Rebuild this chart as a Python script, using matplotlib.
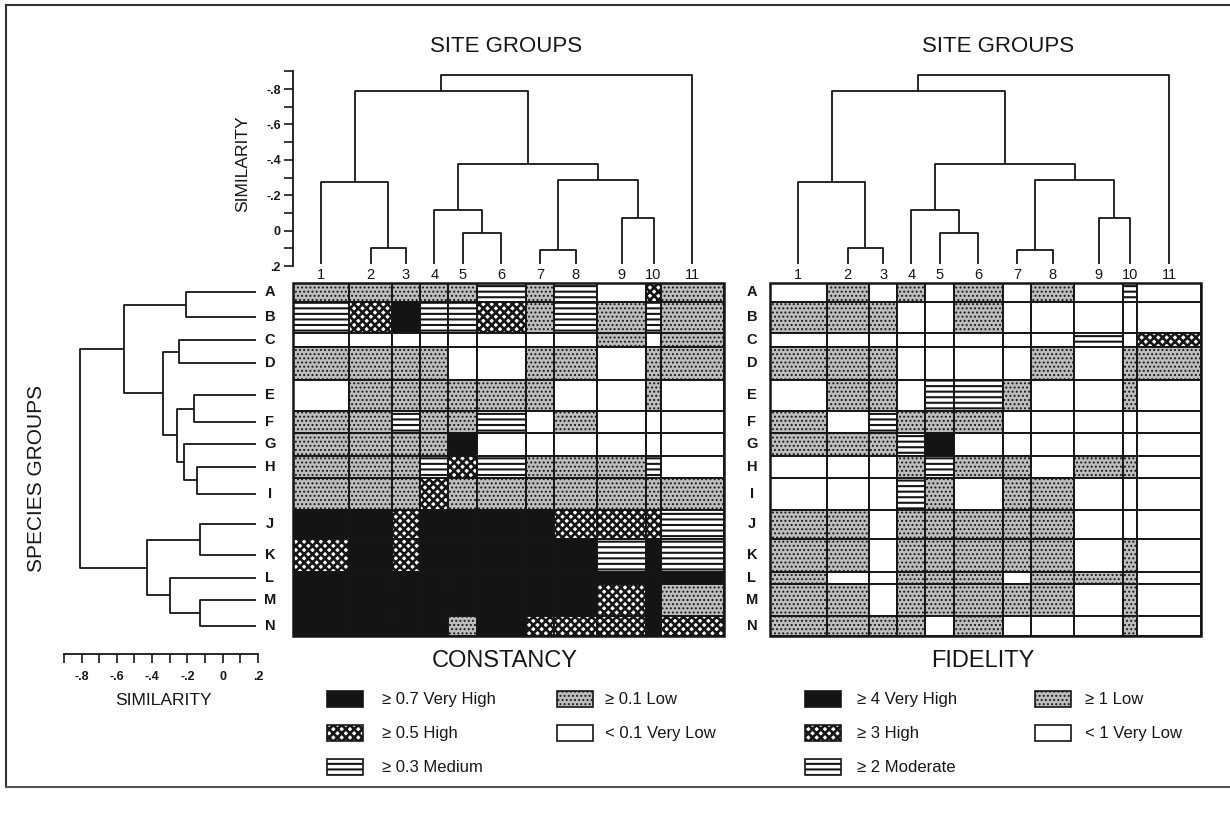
import matplotlib
matplotlib.use('Agg')
import matplotlib.pyplot as plt
from matplotlib.patches import Rectangle
from matplotlib.transforms import blended_transform_factory
import numpy as np

plt.rcParams['font.family'] = ['Liberation Sans', 'DejaVu Sans']

# ---------------- data ----------------
site_labels = ['1', '2', '3', '4', '5', '6', '7', '8', '9', '10', '11']
site_widths = [8, 6, 4, 4, 4, 7, 4, 6, 7, 2, 9]            # relative size of each site group
species_labels = list('ABCDEFGHIJKLMN')
species_sizes = [19, 31, 14, 33, 31, 22, 23, 22, 32, 29, 33, 12, 32, 20]  # relative size of each species group

# classes: 0 very low, 1 low, 2 medium/moderate, 3 high, 4 very high
constancy = [
    [1, 1, 1, 1, 1, 2, 1, 2, 0, 3, 1],  # A
    [2, 3, 4, 2, 2, 3, 1, 2, 1, 2, 1],  # B
    [0, 0, 0, 0, 0, 0, 0, 0, 1, 0, 1],  # C
    [1, 1, 1, 1, 0, 0, 1, 1, 0, 1, 1],  # D
    [0, 1, 1, 1, 1, 1, 1, 0, 0, 1, 0],  # E
    [1, 1, 2, 1, 1, 2, 0, 1, 0, 0, 0],  # F
    [1, 1, 1, 1, 4, 0, 0, 0, 0, 0, 0],  # G
    [1, 1, 1, 2, 3, 2, 1, 1, 1, 2, 0],  # H
    [1, 1, 1, 3, 1, 1, 1, 1, 1, 1, 1],  # I
    [4, 4, 3, 4, 4, 4, 4, 3, 3, 3, 2],  # J
    [3, 4, 3, 4, 4, 4, 4, 4, 2, 4, 2],  # K
    [4, 4, 4, 4, 4, 4, 4, 4, 4, 4, 4],  # L
    [4, 4, 4, 4, 4, 4, 4, 4, 3, 4, 1],  # M
    [4, 4, 4, 4, 1, 4, 3, 3, 3, 4, 3],  # N
]
fidelity = [
    [0, 1, 0, 1, 0, 1, 0, 1, 0, 2, 0],  # A
    [1, 1, 1, 0, 0, 1, 0, 0, 0, 0, 0],  # B
    [0, 0, 0, 0, 0, 0, 0, 0, 2, 0, 3],  # C
    [1, 1, 1, 0, 0, 0, 0, 1, 0, 1, 1],  # D
    [0, 1, 1, 0, 2, 2, 1, 0, 0, 1, 0],  # E
    [1, 0, 2, 1, 1, 1, 0, 0, 0, 0, 0],  # F
    [1, 1, 1, 2, 4, 0, 0, 0, 0, 0, 0],  # G
    [0, 0, 0, 1, 2, 1, 1, 0, 1, 1, 0],  # H
    [0, 0, 0, 2, 1, 0, 1, 1, 0, 0, 0],  # I
    [1, 1, 0, 1, 1, 1, 1, 1, 0, 0, 0],  # J
    [1, 1, 0, 1, 1, 1, 1, 1, 0, 1, 0],  # K
    [1, 0, 0, 1, 1, 1, 0, 1, 1, 1, 0],  # L
    [1, 1, 0, 1, 1, 1, 1, 1, 0, 1, 0],  # M
    [1, 1, 1, 1, 0, 1, 0, 0, 0, 1, 0],  # N
]

# site dendrogram merges (leaf ids 0..10, new nodes from 11)
site_merge_a = [1, 0, 4, 3, 6, 8, 15, 14, 12, 19]
site_merge_b = [2, 11, 5, 13, 7, 9, 16, 17, 18, 10]
site_merge_h = [0.10, -0.277, 0.015, -0.115, 0.11, -0.073, -0.285, -0.375, -0.79, -0.88]
# species dendrogram merges (leaf ids 0..13, new nodes from 14)
species_merge_a = [0, 2, 4, 7, 6, 16, 15, 14, 9, 12, 11, 22, 21]
species_merge_b = [1, 3, 5, 8, 17, 18, 19, 20, 10, 13, 23, 24, 25]
species_merge_h = [-0.21, -0.248, -0.16, -0.147, -0.217, -0.26, -0.336, -0.557,
                   -0.129, -0.129, -0.30, -0.43, -0.81]
leaf_height = 0.19

sim_ticks = [-0.9, -0.8, -0.7, -0.6, -0.5, -0.4, -0.3, -0.2, -0.1, 0.0, 0.1, 0.2]
sim_labels = ['', '-.8', '', '-.6', '', '-.4', '', '-.2', '', '0', '', '.2']

const_legend = ['< 0.1 Very Low', '\u2265 0.1 Low', '\u2265 0.3 Medium', '\u2265 0.5 High', '\u2265 0.7 Very High']
fid_legend = ['< 1 Very Low', '\u2265 1 Low', '\u2265 2 Moderate', '\u2265 3 High', '\u2265 4 Very High']

# ---------------- styles ----------------
STYLE = {
    0: dict(facecolor='white', hatch=None, hlw=1.0),
    1: dict(facecolor='#bdbdbd', hatch='....', hlw=0.9),
    2: dict(facecolor='white', hatch='---', hlw=1.5),
    3: dict(facecolor='white', hatch='xxxx', hlw=1.9),
    4: dict(facecolor='#141414', hatch=None, hlw=1.0),
}
INK = '#161616'

W, H = 1230, 813
fig = plt.figure(figsize=(W / 100, H / 100), dpi=100)


def px_axes(x0, y0, x1, y1, **kw):
    return fig.add_axes([x0 / W, 1 - y1 / H, (x1 - x0) / W, (y1 - y0) / H], **kw)


def make_rect(xy, w, h, cls, lw=1.4):
    st = STYLE[cls]
    with plt.rc_context({'hatch.linewidth': st['hlw']}):
        r = Rectangle(xy, w, h, facecolor=st['facecolor'], edgecolor=INK,
                      hatch=st['hatch'], linewidth=lw)
    if hasattr(r, 'set_hatch_linewidth'):
        r.set_hatch_linewidth(st['hlw'])
    return r


col_edges = np.concatenate([[0], np.cumsum(site_widths)])
row_edges = np.concatenate([[0], np.cumsum(species_sizes)])
col_centers = (col_edges[:-1] + col_edges[1:]) / 2
row_centers = (row_edges[:-1] + row_edges[1:]) / 2


def draw_dendro(ax, leaf_pos, ma, mb, mh, orient):
    pos = list(leaf_pos)
    hts = [leaf_height] * len(leaf_pos)
    for a, b, h in zip(ma, mb, mh):
        xs = [pos[a], pos[a], pos[b], pos[b]]
        ys = [hts[a], h, h, hts[b]]
        if orient == 'top':
            ax.plot(xs, ys, color=INK, lw=1.3, solid_capstyle='butt')
        else:
            ax.plot(ys, xs, color=INK, lw=1.3, solid_capstyle='butt')
        pos.append((pos[a] + pos[b]) / 2)
        hts.append(h)


# overlay for frame and texts
ov = px_axes(0, 0, W, H, zorder=-5)
ov.set_xlim(0, W)
ov.set_ylim(H, 0)
ov.axis('off')
ov.plot([6, 6], [5, 787], color='#333333', lw=1.5)
ov.plot([6, W], [5, 5], color='#333333', lw=1.5)
ov.plot([6, W], [787, 787], color='#555555', lw=1.5)

# matrices
mat_x = {'const': (292.7, 724.3), 'fid': (770, 1201)}
mat_y = (282.7, 636)
letter_x = {'const': 270, 'fid': 752}
for key, data in (('const', constancy), ('fid', fidelity)):
    x0, x1 = mat_x[key]
    ax = px_axes(x0, mat_y[0], x1, mat_y[1])
    ax.set_xlim(0, col_edges[-1])
    ax.set_ylim(row_edges[-1], 0)
    ax.axis('off')
    for i in range(len(species_labels)):
        for j in range(len(site_labels)):
            ax.add_patch(make_rect((col_edges[j], row_edges[i]), site_widths[j],
                                   species_sizes[i], data[i][j]))
    ax.add_patch(Rectangle((0, 0), col_edges[-1], row_edges[-1], fill=False,
                           edgecolor=INK, lw=1.8, clip_on=False))
    tr = blended_transform_factory(ax.transAxes, ax.transData)
    lx = (letter_x[key] - x0) / (x1 - x0)
    for i, lab in enumerate(species_labels):
        ax.text(lx, row_centers[i], lab, transform=tr, ha='center', va='center',
                fontsize=10.5, fontweight='bold', color=INK, clip_on=False)

    # top dendrogram
    axd = px_axes(x0, 71.4, x1, 266.1)
    axd.set_xlim(0, col_edges[-1])
    axd.set_ylim(0.2, -0.9)
    draw_dendro(axd, col_centers, site_merge_a, site_merge_b, site_merge_h, 'top')
    for j, lab in enumerate(site_labels):
        axd.text(col_centers[j], 0.25, lab, ha='center', va='center', fontsize=10.5,
                 color=INK, clip_on=False)
    for s in ('top', 'right', 'bottom'):
        axd.spines[s].set_visible(False)
    axd.set_xticks([])
    if key == 'const':
        axd.spines['left'].set_color(INK)
        axd.spines['left'].set_linewidth(1.3)
        axd.set_yticks(sim_ticks)
        axd.set_yticklabels(sim_labels)
        axd.tick_params(axis='y', direction='out', length=6.5, width=1.2, pad=2,
                        labelsize=9, colors=INK)
        for t in axd.get_yticklabels():
            t.set_fontweight('bold')
    else:
        axd.spines['left'].set_visible(False)
        axd.set_yticks([])
    axd.patch.set_alpha(0)

# left species dendrogram
axl = px_axes(63.9, mat_y[0], 258.0, mat_y[1])
axl.set_xlim(-0.9, 0.2)
axl.set_ylim(row_edges[-1], 0)
draw_dendro(axl, row_centers, species_merge_a, species_merge_b, species_merge_h, 'left')
for s in ('top', 'right', 'left'):
    axl.spines[s].set_visible(False)
axl.spines['bottom'].set_position(('outward', 13))
axl.spines['bottom'].set_linewidth(1.3)
axl.spines['bottom'].set_color(INK)
axl.set_yticks([])
axl.set_xticks(sim_ticks)
axl.set_xticklabels(sim_labels)
axl.tick_params(axis='x', direction='out', length=6.5, width=1.2, pad=6,
                labelsize=9, colors=INK)
for t in axl.get_xticklabels():
    t.set_fontweight('bold')
axl.patch.set_alpha(0)

# texts
ov.text(506, 47, 'SITE GROUPS', ha='center', va='center', fontsize=16, color=INK)
ov.text(998, 47, 'SITE GROUPS', ha='center', va='center', fontsize=16, color=INK)
ov.text(243, 164, 'SIMILARITY', ha='center', va='center', rotation=90, fontsize=12.5, color=INK)
ov.text(37, 478, 'SPECIES GROUPS', ha='center', va='center', rotation=90, fontsize=15, color=INK)
ov.text(163, 700, 'SIMILARITY', ha='center', va='center', fontsize=12.5, color=INK)
ov.text(505, 661, 'CONSTANCY', ha='center', va='center', fontsize=17, color=INK)
ov.text(983, 661, 'FIDELITY', ha='center', va='center', fontsize=17, color=INK)

# legends
leg_rows = [699, 733, 767]
legend_layout = [  # (class, column, row)
    (4, 0, 0), (3, 0, 1), (2, 0, 2), (1, 1, 0), (0, 1, 1)]
leg_cols = {'const': [(327, 382), (557, 605)], 'fid': [(805, 857), (1035, 1085)]}
for key, labels in (('const', const_legend), ('fid', fid_legend)):
    for cls, c, r in legend_layout:
        sx, tx = leg_cols[key][c]
        y = leg_rows[r]
        ov.add_patch(make_rect((sx, y - 8), 36, 16, cls, lw=1.2))
        ov.text(tx, y, labels[cls], ha='left', va='center', fontsize=12, color=INK)

fig.savefig('out.png', dpi=100)
